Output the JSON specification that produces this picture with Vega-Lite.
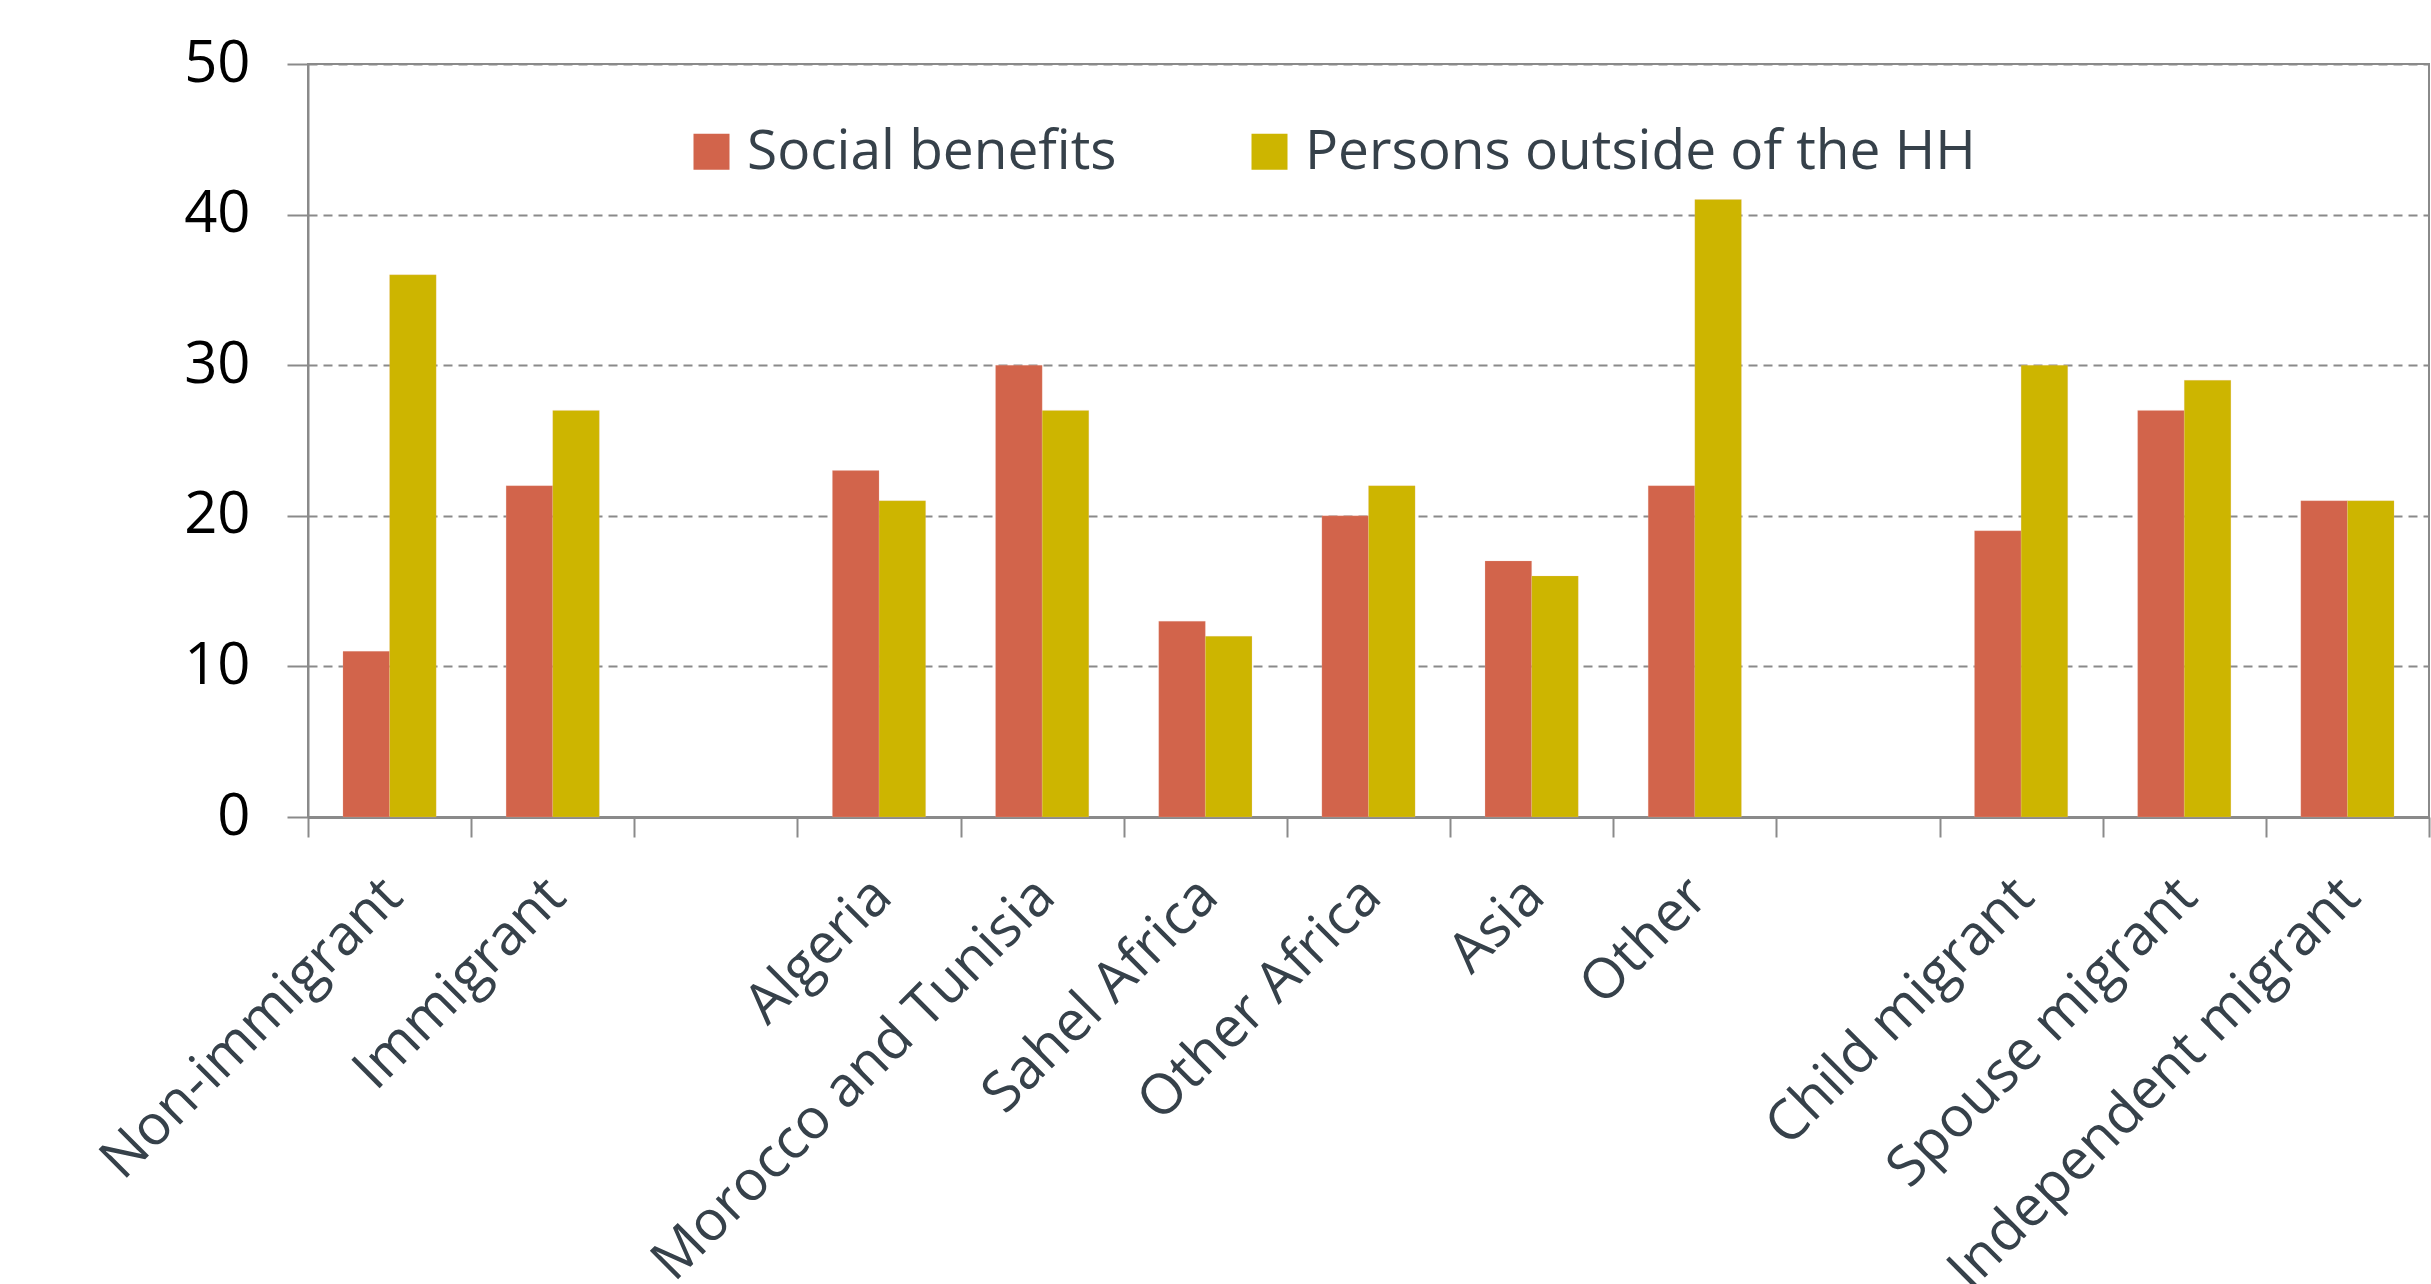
{
  "$schema": "https://vega.github.io/schema/vega-lite/v6.json",
  "width": 2121,
  "height": 753,
  "autosize": {"type": "none"},
  "padding": {"left": 308, "top": 64, "right": 2, "bottom": 467},
  "background": "white",
  "config": {
    "font": "Open Sans",
    "view": {"stroke": "#8a8a8a", "strokeWidth": 2}
  },
  "data": {
    "values": [
      {"category": "Non-immigrant", "series": "Social benefits", "value": 11},
      {"category": "Non-immigrant", "series": "Persons outside of the HH", "value": 36},
      {"category": "Immigrant", "series": "Social benefits", "value": 22},
      {"category": "Immigrant", "series": "Persons outside of the HH", "value": 27},
      {"category": "Algeria", "series": "Social benefits", "value": 23},
      {"category": "Algeria", "series": "Persons outside of the HH", "value": 21},
      {"category": "Morocco and Tunisia", "series": "Social benefits", "value": 30},
      {"category": "Morocco and Tunisia", "series": "Persons outside of the HH", "value": 27},
      {"category": "Sahel Africa", "series": "Social benefits", "value": 13},
      {"category": "Sahel Africa", "series": "Persons outside of the HH", "value": 12},
      {"category": "Other Africa", "series": "Social benefits", "value": 20},
      {"category": "Other Africa", "series": "Persons outside of the HH", "value": 22},
      {"category": "Asia", "series": "Social benefits", "value": 17},
      {"category": "Asia", "series": "Persons outside of the HH", "value": 16},
      {"category": "Other", "series": "Social benefits", "value": 22},
      {"category": "Other", "series": "Persons outside of the HH", "value": 41},
      {"category": "Child migrant", "series": "Social benefits", "value": 19},
      {"category": "Child migrant", "series": "Persons outside of the HH", "value": 30},
      {"category": "Spouse migrant", "series": "Social benefits", "value": 27},
      {"category": "Spouse migrant", "series": "Persons outside of the HH", "value": 29},
      {"category": "Independent migrant", "series": "Social benefits", "value": 21},
      {"category": "Independent migrant", "series": "Persons outside of the HH", "value": 21}
    ]
  },
  "mark": {"type": "bar", "stroke": "#f0c0b0", "strokeWidth": 0.5, "strokeOpacity": 0.4},
  "encoding": {
    "x": {
      "field": "category",
      "type": "nominal",
      "title": null,
      "scale": {
        "domain": ["Non-immigrant", "Immigrant", " ", "Algeria", "Morocco and Tunisia", "Sahel Africa", "Other Africa", "Asia", "Other", "  ", "Child migrant", "Spouse migrant", "Independent migrant"],
        "paddingInner": 0,
        "paddingOuter": 0
      },
      "axis": {
        "tickBand": "extent",
        "labelAngle": -45,
        "labelAlign": "right",
        "labelBaseline": "middle",
        "labelFontSize": 56,
        "labelColor": "#36414a",
        "labelPadding": 50,
        "labelOffset": 3,
        "labelLimit": 1000,
        "tickSize": 20,
        "tickColor": "#8a8a8a",
        "tickWidth": 2,
        "domainColor": "#8a8a8a",
        "domainWidth": 3,
        "grid": false
      }
    },
    "xOffset": {
      "field": "series",
      "type": "nominal",
      "sort": ["Social benefits", "Persons outside of the HH"],
      "scale": {"paddingInner": 0, "paddingOuter": 0.75}
    },
    "y": {
      "field": "value",
      "type": "quantitative",
      "title": null,
      "scale": {"domain": [0, 50], "nice": false},
      "axis": {
        "values": [0, 10, 20, 30, 40, 50],
        "labelFontSize": 58,
        "labelColor": "#000000",
        "labelPadding": 37,
        "tickSize": 21,
        "tickColor": "#8a8a8a",
        "tickWidth": 2,
        "domainColor": "#8a8a8a",
        "domainWidth": 2,
        "grid": true,
        "gridColor": "#8a8a8a",
        "gridWidth": 2,
        "gridDash": [9, 6]
      }
    },
    "color": {
      "field": "series",
      "type": "nominal",
      "scale": {
        "domain": ["Social benefits", "Persons outside of the HH"],
        "range": ["#d2644b", "#cdb500"]
      },
      "legend": {
        "title": null,
        "orient": "none",
        "direction": "horizontal",
        "legendX": 376,
        "legendY": 60,
        "padding": 0,
        "symbolType": "square",
        "symbolSize": 1296,
        "symbolStrokeWidth": 0,
        "labelFontSize": 55,
        "labelColor": "#36414a",
        "labelOffset": 8,
        "labelLimit": 1000,
        "columnPadding": 125
      }
    }
  }
}
